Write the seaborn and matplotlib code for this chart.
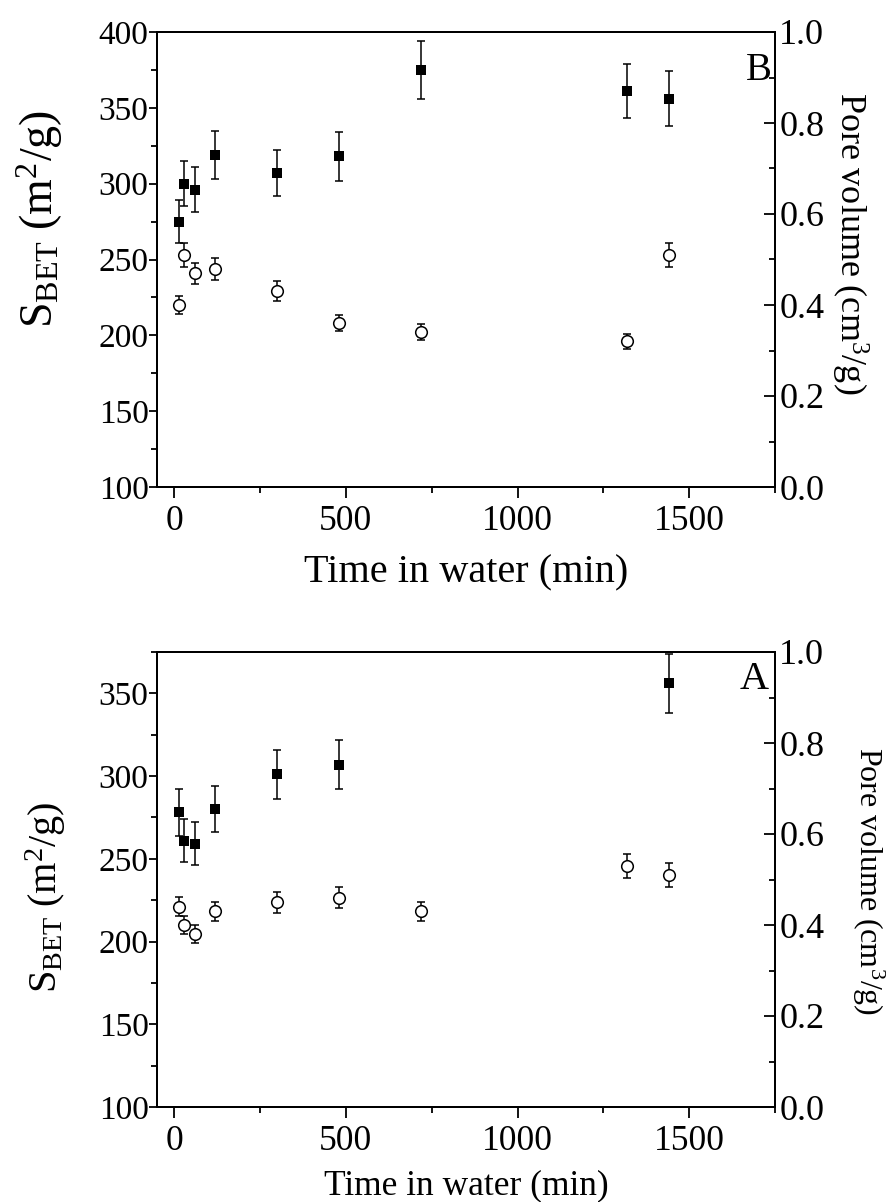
import matplotlib
matplotlib.use("Agg")
import matplotlib.pyplot as plt
from matplotlib.ticker import MultipleLocator, FormatStrFormatter
import seaborn as sns
import pandas as pd

# ---- data ----
# Panel B (top)
time_B = [15, 30, 60, 120, 300, 480, 720, 1320, 1440]
sbet_B = [275, 300, 296, 319, 307, 318, 375, 361, 356]
sbet_B_err = [14, 15, 15, 16, 15, 16, 19, 18, 18]
pv_B = [0.40, 0.51, 0.47, 0.48, 0.43, 0.36, 0.34, 0.32, 0.51]
pv_B_err = [0.020, 0.026, 0.023, 0.024, 0.022, 0.018, 0.018, 0.016, 0.026]

# Panel A (bottom)
time_A_sbet = [15, 30, 60, 120, 300, 480, 1440]
sbet_A = [278, 261, 259, 280, 301, 307, 356]
sbet_A_err = [14, 13, 13, 14, 15, 15, 18]
time_A_pv = [15, 30, 60, 120, 300, 480, 720, 1320, 1440]
pv_A = [0.44, 0.40, 0.38, 0.43, 0.45, 0.46, 0.43, 0.53, 0.51]
pv_A_err = [0.021, 0.019, 0.019, 0.021, 0.023, 0.023, 0.021, 0.026, 0.026]

x_ticks = [0, 500, 1000, 1500]

sns.set_style("ticks")
plt.rcParams['font.family'] = ['Liberation Serif', 'DejaVu Serif']
plt.rcParams['mathtext.fontset'] = 'custom'
plt.rcParams['mathtext.rm'] = 'Liberation Serif'
plt.rcParams['mathtext.it'] = 'Liberation Serif:italic'
plt.rcParams['axes.linewidth'] = 1.4
for k in ('text.color', 'axes.labelcolor', 'xtick.color', 'ytick.color', 'axes.edgecolor'):
    plt.rcParams[k] = 'black'

fig = plt.figure(figsize=(8.96, 12.02), dpi=100)

W, H = 896, 1202


def axes_rect(left, top, right, bottom):
    return [left / W, 1 - bottom / H, (right - left) / W, (bottom - top) / H]


def panel(rect, t_s, s, s_err, t_p, p, p_err, ylim, letter, letter_xy, letter_fs,
          fs_left, fs_bottom, fs_right, xlab_fs, ylab_fs, rlab_fs, ylab_pos, rlab_pos, xlab_pad):
    ax = fig.add_axes(rect)
    ax.errorbar(t_s, s, yerr=s_err, fmt='none', ecolor='black', elinewidth=1.1,
                capsize=3.2, capthick=1.1, zorder=2)
    df_s = pd.DataFrame({'t': t_s, 'v': s})
    sns.scatterplot(data=df_s, x='t', y='v', ax=ax, marker='s', s=62,
                    color='black', edgecolor='black', linewidth=0, zorder=3,
                    legend=False)
    ax.set_xlim(-50, 1750)
    ax.set_ylim(*ylim)
    ax.set_xticks(x_ticks)
    ax.xaxis.set_minor_locator(MultipleLocator(250))
    ax.yaxis.set_major_locator(MultipleLocator(50))
    ax.yaxis.set_minor_locator(MultipleLocator(25))
    ax.tick_params(axis='x', which='major', direction='out', length=8, width=1.3,
                   labelsize=fs_bottom, pad=5)
    ax.tick_params(axis='x', which='minor', direction='out', length=4, width=1.3)
    ax.tick_params(axis='y', which='major', direction='out', length=6, width=1.3,
                   labelsize=fs_left, pad=0)
    ax.tick_params(axis='y', which='minor', direction='out', length=4, width=1.3)
    ax.set_xlabel('Time in water (min)', fontsize=xlab_fs, labelpad=xlab_pad)
    ax.set_ylabel(r'$\mathregular{S_{BET}\ (m^2/g)}$', fontsize=ylab_fs, va='center')
    ax.yaxis.set_label_coords(*ylab_pos)

    ax2 = ax.twinx()
    ax2.errorbar(t_p, p, yerr=p_err, fmt='none', ecolor='black', elinewidth=1.1,
                 capsize=3.2, capthick=1.1, zorder=2)
    df_p = pd.DataFrame({'t': t_p, 'v': p})
    sns.scatterplot(data=df_p, x='t', y='v', ax=ax2, marker='o', s=70,
                    facecolor='white', edgecolor='black', linewidth=1.1,
                    zorder=3, legend=False)
    ax2.set_ylim(0, 1.0)
    ax2.set_xlim(-50, 1750)
    ax2.yaxis.set_major_locator(MultipleLocator(0.2))
    ax2.yaxis.set_minor_locator(MultipleLocator(0.1))
    ax2.tick_params(axis='y', which='major', direction='in', length=8, width=1.3,
                    labelsize=fs_right, pad=3)
    ax2.tick_params(axis='y', which='minor', direction='in', length=4, width=1.3)
    ax2.yaxis.set_major_formatter(FormatStrFormatter('%.1f'))
    ax2.set_ylabel(r'$\mathregular{Pore\ volume\ (cm^3/g)}$', fontsize=rlab_fs,
                   rotation=270, va='center')
    ax2.yaxis.set_label_coords(*rlab_pos)
    ax2.set_xlabel('')
    ax2.text(letter_xy[0], letter_xy[1], letter, transform=ax2.transAxes,
             fontsize=letter_fs, ha='right', va='center')
    for a in (ax, ax2):
        for sp in a.spines.values():
            sp.set_visible(True)
            sp.set_linewidth(1.4)
    return ax, ax2


panel(axes_rect(157, 32, 775, 487), time_B, sbet_B, sbet_B_err, time_B, pv_B, pv_B_err,
      (100, 400), 'B', (0.995, 0.915), 28,
      24, 25.5, 26, 29, 33, 26,
      (-0.19, 0.59), (1.12, 0.535), 12)

panel(axes_rect(157, 652, 775, 1107), time_A_sbet, sbet_A, sbet_A_err, time_A_pv, pv_A, pv_A_err,
      (100, 375), 'A', (0.99, 0.94), 29,
      24, 25.5, 26, 25.5, 29, 23,
      (-0.18, 0.46), (1.15, 0.497), 8)

fig.savefig('out.png', dpi=100)
